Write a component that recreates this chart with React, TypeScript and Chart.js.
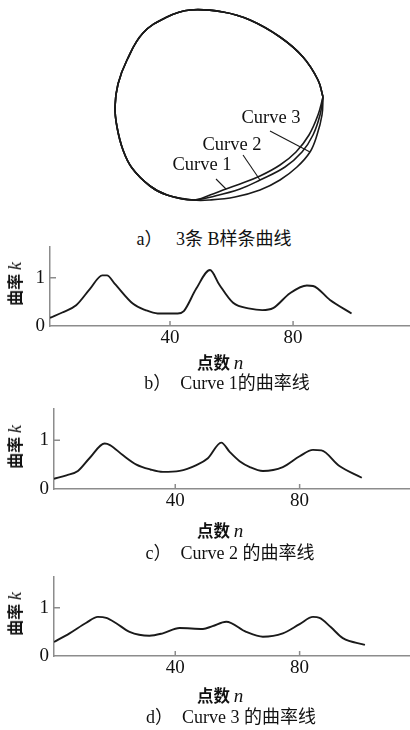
import { useEffect, useRef } from "react";
import { Chart, registerables } from "chart.js";

Chart.register(...registerables);

// ---------- data ----------
const tickValuesX = [40, 80];
const tickValuesY = [0, 1];

const curve1N = [1, 5, 9.5, 14, 18, 19.5, 22, 28, 32, 36, 42.5, 44.5, 48.5, 53, 56, 60.5, 66, 70, 73.5, 79, 84.5, 86.5, 92, 99];
const curve1K = [0.17, 0.28, 0.43, 0.77, 1.05, 1.05, 0.88, 0.46, 0.33, 0.26, 0.26, 0.31, 0.77, 1.16, 0.86, 0.48, 0.36, 0.33, 0.37, 0.68, 0.84, 0.83, 0.54, 0.26];

const curve2N = [1, 5, 8.7, 12.4, 17.3, 19, 23, 27.5, 32, 36, 41.4, 46.8, 50.5, 54.8, 57.5, 60.7, 64, 68.2, 74.6, 80, 84.3, 87, 92.8, 100];
const curve2K = [0.21, 0.28, 0.37, 0.63, 0.93, 0.9, 0.7, 0.5, 0.4, 0.35, 0.37, 0.49, 0.63, 0.95, 0.76, 0.57, 0.45, 0.37, 0.45, 0.67, 0.8, 0.79, 0.47, 0.23];

const curve3N = [1, 6, 11.4, 15.1, 17.8, 21, 25.3, 31.7, 36, 41.4, 48.9, 52, 56.4, 62.8, 68.2, 74.6, 80, 84.3, 86.4, 90, 93.9, 101];
const curve3K = [0.29, 0.47, 0.69, 0.81, 0.79, 0.68, 0.5, 0.42, 0.47, 0.58, 0.56, 0.62, 0.71, 0.5, 0.4, 0.47, 0.66, 0.81, 0.79, 0.6, 0.37, 0.23];

// shape of the three closed B-spline curves (shared left/top boundary)
const sharedX = [193, 167, 150, 132, 123, 117, 115, 118, 127, 143, 167, 190, 223, 250, 280, 303, 318, 323];
const sharedY = [200, 195, 186, 168, 150, 127, 107, 84, 60, 33, 17, 10, 12, 20, 37, 57, 80, 97];
// lower-right branches, from the right junction down to the bottom
const branch1X = [323, 318, 309, 296, 280, 260, 240, 226, 210, 193];
const branch1Y = [97, 115, 135, 152, 165, 176, 184, 189, 195, 200];
const branch2X = [323, 320, 313, 302, 285, 260, 240, 215, 193];
const branch2Y = [97, 115, 135, 152, 167, 180, 189, 196, 200];
const branch3X = [323, 322, 317, 310, 297, 280, 260, 235, 210, 193];
const branch3Y = [97, 115, 135, 152, 167, 180, 190, 197, 200, 200];

const curveNames = ["Curve 1", "Curve 2", "Curve 3"];
const labelX = [202, 232, 271];
const labelY = [165, 145, 118];
const leaderX = [[216, 226], [243, 260], [270, 310]];
const leaderY = [[179, 189], [155, 180], [131, 152]];

// ---------- styles ----------
const AXIS = "#8c8c8c";
const INK = "#1a1a1a";
const SERIF = '"Liberation Serif", "Noto Sans CJK SC", serif';
const CJK = '"Noto Sans CJK SC", sans-serif';

const innerTicks = {
  id: "innerTicks",
  afterDraw(chart: any) {
    const { ctx, chartArea } = chart;
    const x = chart.scales.x;
    const y = chart.scales.y;
    ctx.save();
    ctx.strokeStyle = AXIS;
    ctx.lineWidth = 1.5;
    ctx.beginPath();
    for (const v of tickValuesX) {
      const px = x.getPixelForValue(v);
      ctx.moveTo(px, chartArea.bottom);
      ctx.lineTo(px, chartArea.bottom - 5);
    }
    for (const v of tickValuesY) {
      if (v === 0) continue;
      const py = y.getPixelForValue(v);
      ctx.moveTo(chartArea.left, py);
      ctx.lineTo(chartArea.left + 6, py);
    }
    ctx.stroke();
    ctx.restore();
  },
};

type KProps = { xs: number[]; ys: number[]; top: number; height: number; axisLeft: number; xMax: number };

function KChart({ xs, ys, top, height, axisLeft, xMax }: KProps) {
  const ref = useRef<HTMLCanvasElement>(null);
  useEffect(() => {
    const chart = new Chart(ref.current!, {
      type: "line",
      data: {
        datasets: [
          {
            data: xs.map((x, i) => ({ x, y: ys[i] })),
            borderColor: INK,
            borderWidth: 1.9,
            pointRadius: 0,
            cubicInterpolationMode: "monotone",
            fill: false,
          },
        ],
      },
      options: {
        responsive: false,
        animation: false,
        events: [],
        layout: { padding: { top: 12, left: 0, right: 0, bottom: 0 } },
        plugins: { legend: { display: false }, tooltip: { enabled: false } },
        scales: {
          x: {
            type: "linear",
            min: 1,
            max: xMax,
            grid: { display: false, drawTicks: false },
            border: { color: AXIS, width: 1.5 },
            ticks: { font: { family: SERIF, size: 19 }, color: "#111", padding: 1, maxRotation: 0, autoSkip: false },
            afterBuildTicks: (s: any) => {
              s.ticks = tickValuesX.map((v) => ({ value: v }));
            },
            afterFit: (s: any) => {
              s.height = 30;
            },
          },
          y: {
            type: "linear",
            min: 0,
            max: 1.65,
            grid: { display: false, drawTicks: false },
            border: { color: AXIS, width: 1.5 },
            ticks: { font: { family: SERIF, size: 19 }, color: "#111", padding: 5, autoSkip: false },
            afterBuildTicks: (s: any) => {
              s.ticks = tickValuesY.map((v) => ({ value: v }));
            },
            afterFit: (s: any) => {
              s.width = axisLeft;
            },
          },
        },
      } as any,
      plugins: [innerTicks],
    });
    return () => chart.destroy();
  }, []);
  return <canvas ref={ref} width={410} height={height} style={{ position: "absolute", left: 0, top, display: "block" }} />;
}

const curveLabels = {
  id: "curveLabels",
  afterDatasetsDraw(chart: any) {
    const { ctx } = chart;
    const x = chart.scales.x;
    const y = chart.scales.y;
    ctx.save();
    ctx.fillStyle = "#111";
    ctx.font = '18.5px "Liberation Serif"';
    ctx.textAlign = "center";
    ctx.textBaseline = "middle";
    curveNames.forEach((name, i) => {
      ctx.fillText(name, x.getPixelForValue(labelX[i]), y.getPixelForValue(labelY[i]));
    });
    ctx.restore();
  },
};

function Figure() {
  const ref = useRef<HTMLCanvasElement>(null);
  useEffect(() => {
    const branches = [
      [branch1X, branch1Y],
      [branch2X, branch2Y],
      [branch3X, branch3Y],
    ];
    const loops = branches.map(([bx, by]) => {
      const pts = bx.map((x, i) => ({ x, y: by[i] }));
      const rest = sharedX.slice(1).map((x, i) => ({ x, y: sharedY[i + 1] }));
      return {
        data: pts.concat(rest),
        showLine: true,
        borderColor: INK,
        borderWidth: 1.6,
        pointRadius: 0,
        tension: 0.4,
        fill: false,
      };
    });
    const leaders = leaderX.map((lx, i) => ({
      data: lx.map((x, j) => ({ x, y: leaderY[i][j] })),
      showLine: true,
      borderColor: INK,
      borderWidth: 1.1,
      pointRadius: 0,
      tension: 0,
      fill: false,
    }));
    const chart = new Chart(ref.current!, {
      type: "scatter",
      data: { datasets: [...loops, ...leaders] as any },
      options: {
        responsive: false,
        animation: false,
        events: [],
        layout: { padding: 0 },
        plugins: { legend: { display: false }, tooltip: { enabled: false } },
        scales: {
          x: { type: "linear", min: 0, max: 410, display: false },
          y: { type: "linear", min: 0, max: 225, reverse: true, display: false },
        },
      } as any,
      plugins: [curveLabels],
    });
    return () => chart.destroy();
  }, []);
  return <canvas ref={ref} width={410} height={225} style={{ position: "absolute", left: 0, top: 0, display: "block" }} />;
}

function Text({ x, y, children, rotate, style }: { x: number; y: number; children: any; rotate?: boolean; style?: any }) {
  return (
    <div
      style={{
        position: "absolute",
        left: x,
        top: y,
        transform: `translate(-50%, -50%)${rotate ? " rotate(-90deg)" : ""}`,
        whiteSpace: "pre",
        lineHeight: 1,
        color: "#111",
        fontFamily: SERIF,
        fontSize: 16,
        ...style,
      }}
    >
      {children}
    </div>
  );
}

function YTitle({ x, y }: { x: number; y: number }) {
  return (
    <Text x={x} y={y} rotate>
      <span style={{ fontFamily: CJK, fontWeight: 700, fontSize: 16 }}>曲率 </span>
      <span style={{ fontFamily: SERIF, fontStyle: "italic", fontSize: 18 }}>k</span>
    </Text>
  );
}

function XTitle({ x, y }: { x: number; y: number }) {
  return (
    <Text x={x} y={y}>
      <span style={{ fontFamily: CJK, fontWeight: 700, fontSize: 16.5 }}>点数 </span>
      <span style={{ fontFamily: SERIF, fontStyle: "italic", fontSize: 19 }}>n</span>
    </Text>
  );
}

const CAP = { fontSize: 18 };

export default function App() {
  return (
    <div style={{ position: "absolute", left: 0, top: 0, width: 410, height: 730, background: "#fff", overflow: "hidden" }}>
      <Figure />
      <Text x={214} y={239} style={CAP}>a）   3条 B样条曲线</Text>

      <KChart xs={curve1N} ys={curve1K} top={230} height={126} axisLeft={50} xMax={118} />
      <YTitle x={15} y={284} />
      <XTitle x={220} y={362} />
      <Text x={227} y={383} style={CAP}>b）  Curve 1的曲率线</Text>

      <KChart xs={curve2N} ys={curve2K} top={392} height={127} axisLeft={54} xMax={115.5} />
      <YTitle x={15} y={447} />
      <XTitle x={220} y={530} />
      <Text x={230} y={553} style={CAP}>c）  Curve 2 的曲率线</Text>

      <KChart xs={curve3N} ys={curve3K} top={560} height={126} axisLeft={54} xMax={115.5} />
      <YTitle x={15} y={614} />
      <XTitle x={220} y={695} />
      <Text x={231} y={717} style={CAP}>d）  Curve 3 的曲率线</Text>
    </div>
  );
}
